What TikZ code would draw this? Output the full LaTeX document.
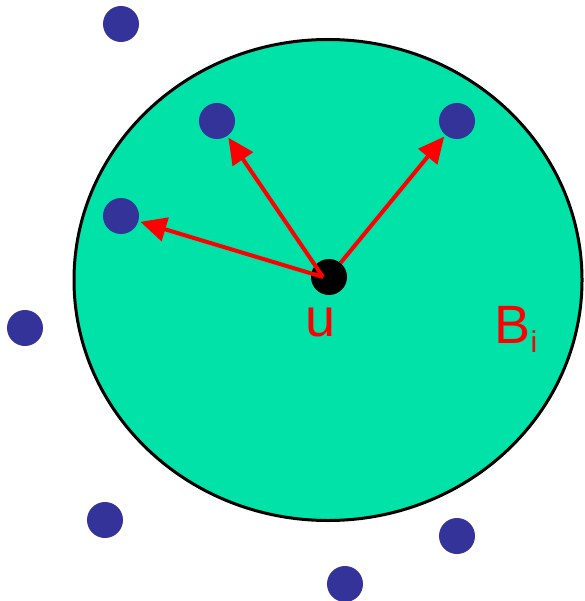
\documentclass[tikz,border=0pt]{standalone}
\usepackage{fontspec}
\setmainfont{Liberation Sans}
\usetikzlibrary{arrows.meta}

\definecolor{ballgreen}{RGB}{0,226,168}
\definecolor{dotblue}{RGB}{51,51,153}

\begin{document}
\begin{tikzpicture}[
  x=1pt, y=-1pt,
  dot/.style={circle, fill=dotblue, inner sep=0pt, minimum size=36pt},
  center/.style={circle, fill=black, inner sep=0pt, minimum size=36pt},
  arrow/.style={-{Triangle[length=26pt, width=24pt]}, red, line width=4pt, shorten >=2pt},
  label/.style={red, font=\fontsize{54}{60}\selectfont},
]
\useasboundingbox (0,0) rectangle (584,601);

% === Ball B_i ===
\draw[fill=ballgreen, line width=3pt] (328,280) ellipse [x radius=254, y radius=240.5];

% === Points ===
\node[dot] (p1) at (121,24) {};
\node[dot] (p2) at (217,121) {};
\node[dot] (p3) at (457,121) {};
\node[dot] (p4) at (121,216) {};
\node[dot] (p5) at (25,328) {};
\node[dot] (p6) at (105,520) {};
\node[dot] (p7) at (457,536) {};
\node[dot] (p8) at (345,584) {};
\node[center] (u) at (329,277) {};

\draw[arrow] ([xshift=-6pt]u.center) -- (p2);
\draw[arrow] (u) -- (p3);
\draw[arrow] ([xshift=-6pt]u.center) -- (p4);

% === Labels ===
\node[label] (ulabel) at (321,322) {u};
\node[label, anchor=base west] (blabel) at (491,343) {B\raisebox{-9pt}{\fontsize{30}{30}\selectfont i}};

\end{tikzpicture}
\end{document}
